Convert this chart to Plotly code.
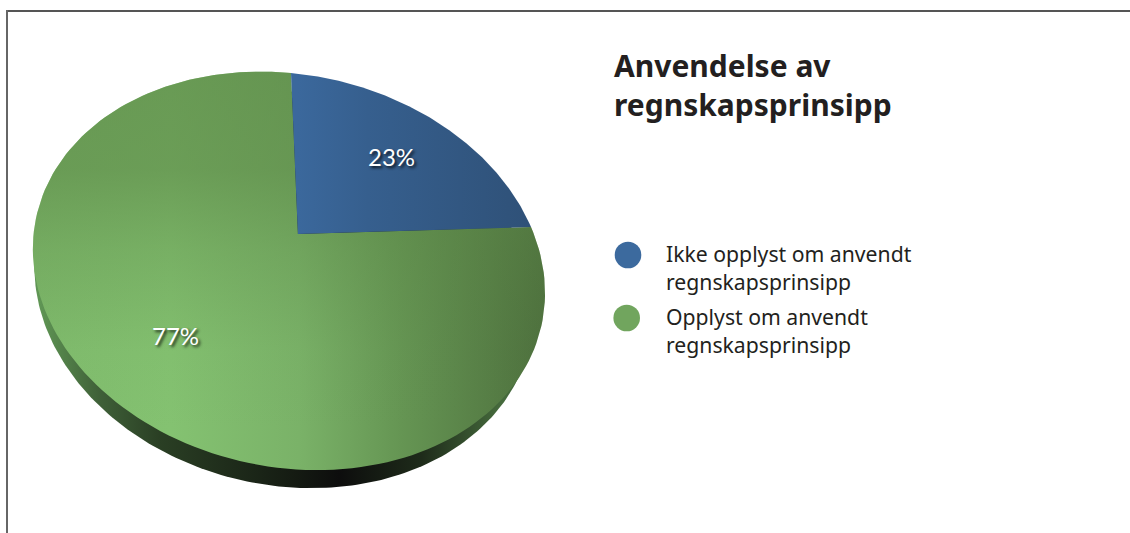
import numpy as np
import plotly.graph_objects as go

# Chart content
categories = ["Ikke opplyst om anvendt<br>regnskapsprinsipp", "Opplyst om anvendt<br>regnskapsprinsipp"]
values = [23, 77]
title_lines = ["Anvendelse av", "regnskapsprinsipp"]
legend_colors = ["#3c6a9e", "#71a55e"]

# Pixel canvas and tilted-disc projection anchors (unit circle -> canvas)
W, H = 1130, 533
ANCHORS = np.array([[291, 73], [531, 227], [308, 470], [33, 242]], float)
START = np.radians(values[0] / sum(values) * 360)


def unit(theta):
    return np.sin(theta), np.cos(theta)


def solve_projection():
    src = [unit(0.0), unit(START), unit(np.pi), unit(START + np.pi)]
    A, b = [], []
    for (u, v), (x, y) in zip(src, ANCHORS):
        A.append([u, v, 1, 0, 0, 0, -u * x, -v * x])
        A.append([0, 0, 0, u, v, 1, -u * y, -v * y])
        b += [x, y]
    return np.append(np.linalg.solve(np.array(A), np.array(b)), 1).reshape(3, 3)


M = solve_projection()


def project(u, v):
    p = M @ np.vstack([u, v, np.ones_like(u)])
    return p[0] / p[2], p[1] / p[2]


def wedge(a0, a1):
    t = np.linspace(a0, a1, 160)
    u, v = unit(t)
    u = np.concatenate([[0], u, [0]])
    v = np.concatenate([[0], v, [0]])
    return project(u, v)


def label_pos(a0, a1, frac):
    mid = (a0 + a1) / 2
    u, v = unit(mid)
    x, y = project(np.array([u * frac]), np.array([v * frac]))
    return float(x[0]), float(y[0])


fig = go.Figure()

# Disc edge: the outline pushed down, darkest under the front of the disc
ot = np.linspace(0, 2 * np.pi, 360)
ox, oy = project(*unit(ot))
cx = ox.mean()
fig.add_trace(go.Scatter(
    x=cx + (ox - cx) * 0.975 - 5, y=oy + 18, mode="lines", line=dict(width=0), fill="toself",
    fillgradient=dict(type="horizontal", start=40, stop=500, colorscale=[
        [0, "#5f9554"], [0.13, "#3f6038"], [0.26, "#2a3f24"], [0.56, "#141a12"], [0.65, "#0d0d0d"],
        [0.83, "#1e2b1a"], [1, "#456a3c"]]),
    hoverinfo="skip", showlegend=False))

# Wedges, sized from the values
frac = np.cumsum([0] + values) / sum(values) * 2 * np.pi
wedge_grad = [
    dict(type="horizontal", start=298, stop=530, colorscale=[[0, "#3b689c"], [0.3, "#365f8e"], [1, "#2f5178"]]),
    dict(type="horizontal", start=33, stop=545, colorscale=[
        [0, "#80bc6d"], [0.27, "#84c271"], [0.52, "#7ab268"], [0.72, "#659553"], [1, "#4d6f3d"]]),
]
for i in [1, 0]:
    x, y = wedge(frac[i], frac[i + 1])
    fig.add_trace(go.Scatter(x=x, y=y, mode="lines", line=dict(width=0), fill="toself",
                             fillgradient=wedge_grad[i], hoverinfo="skip", showlegend=False))
    if i == 1:
        # Soft darkening toward the back of the disc
        fig.add_trace(go.Scatter(x=x, y=y, mode="lines", line=dict(width=0), fill="toself",
                                 fillgradient=dict(type="vertical", start=72, stop=430, colorscale=[
                                     [0, "rgba(90,133,69,0.65)"], [0.27, "rgba(90,133,69,0.6)"],
                                     [0.5, "rgba(90,133,69,0.3)"], [0.78, "rgba(90,133,69,0.05)"],
                                     [1, "rgba(90,133,69,0)"]]),
                                 hoverinfo="skip", showlegend=False))

# Legend swatches
fig.add_trace(go.Scatter(x=[628, 626.7], y=[255, 318], mode="markers",
                         marker=dict(size=26.6, color=legend_colors, line=dict(width=0)),
                         hoverinfo="skip", showlegend=False))

annotations = []
for i, f in enumerate([0.65, 0.676]):
    lx, ly = label_pos(frac[i], frac[i + 1], f)
    annotations.append(dict(x=lx, y=ly, text=f"{values[i]}%", showarrow=False, xref="x", yref="y",
                            font=dict(family="Lato", size=24, color="white",
                                      shadow="2px 2px 3px rgba(0,0,0,0.8)")))
for line, baseline in zip(title_lines, [75, 114]):
    annotations.append(dict(x=612, y=baseline - 10, text=f"<b>{line}</b>", showarrow=False, xref="x", yref="y",
                            xanchor="left", yanchor="middle", align="left",
                            font=dict(family="Noto Sans", size=30, color="#231f20")))
for name, yc in zip(categories, [267, 330]):
    annotations.append(dict(x=664, y=yc, text=name, showarrow=False, xref="x", yref="y",
                            xanchor="left", yanchor="middle", align="left",
                            font=dict(family="Noto Sans", size=21.2, color="#231f20")))

fig.update_layout(
    width=W, height=H, margin=dict(l=0, r=0, t=0, b=0),
    paper_bgcolor="white", plot_bgcolor="white",
    xaxis=dict(range=[0, W], visible=False, fixedrange=True),
    yaxis=dict(range=[H, 0], visible=False, fixedrange=True),
    annotations=annotations,
    shapes=[
        dict(type="line", xref="x", yref="y", x0=6, x1=W, y0=11, y1=11, line=dict(color="#555555", width=2)),
        dict(type="line", xref="x", yref="y", x0=7, x1=7, y0=10, y1=H, line=dict(color="#666666", width=2)),
    ],
)
fig.write_html("out.html", config={"displayModeBar": False})
